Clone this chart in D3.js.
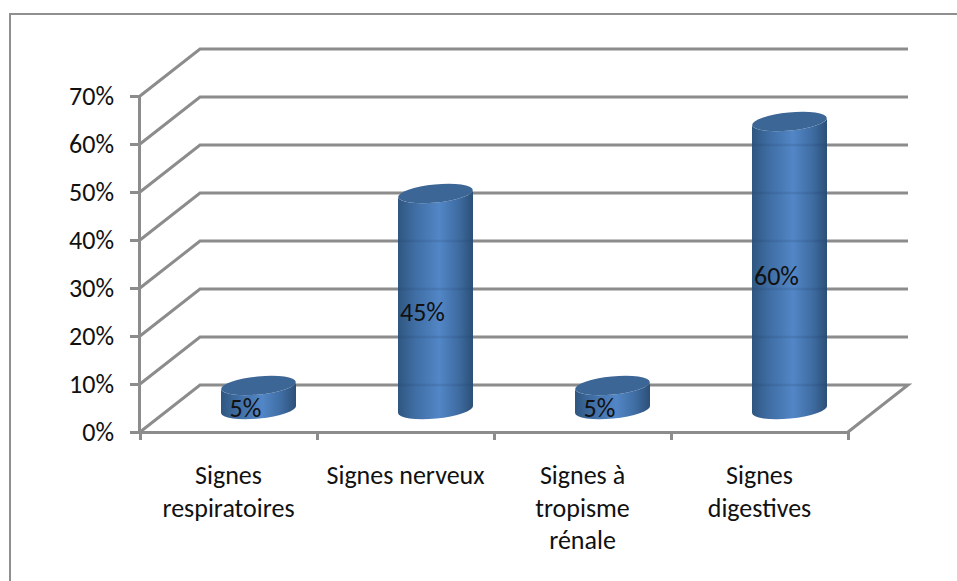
<!DOCTYPE html>
<html>
<head>
<meta charset="utf-8">
<script src="https://cdn.jsdelivr.net/npm/d3@7"></script>
<style>
  html, body { margin: 0; padding: 0; background: #fff; }
  svg { display: block; }
  text { font-family: Carlito, Lato, "Open Sans", sans-serif; fill: #111; }
</style>
</head>
<body>
<svg id="chart" width="957" height="581"></svg>
<script>
"use strict";

const categories = ["Signes respiratoires", "Signes nerveux", "Signes à tropisme rénale", "Signes digestives"];
const categoryLines = [["Signes", "respiratoires"], ["Signes nerveux"], ["Signes à", "tropisme", "rénale"], ["Signes", "digestives"]];
const values = [0.05, 0.45, 0.05, 0.6];
const yTicks = [0, 0.1, 0.2, 0.3, 0.4, 0.5, 0.6, 0.7];

const svg = d3.select("#chart");
const gridColor = "#8c8c8c";
const fontSize = 26;

// front plane of the 3d box
const y = d3.scaleLinear().domain([0, 0.7]).range([432, 96]);
const x = d3.scaleBand().domain(categories).range([140, 848]);
const depthX = 60;
const depthY = -47;

const defs = svg.append("defs");
const grad = defs.append("linearGradient").attr("id", "barSide");
grad.append("stop").attr("offset", "0%").attr("stop-color", "#2f5680");
grad.append("stop").attr("offset", "22%").attr("stop-color", "#3f6da3");
grad.append("stop").attr("offset", "55%").attr("stop-color", "#5286c6");
grad.append("stop").attr("offset", "80%").attr("stop-color", "#3f6da3");
grad.append("stop").attr("offset", "100%").attr("stop-color", "#2c5077");

// chart frame, only top and left show
svg.append("path")
  .attr("d", "M10,581V14H957")
  .attr("fill", "none")
  .attr("stroke", "#8f8f8f")
  .attr("stroke-width", 2);

// walls: one bent line per tick
const walls = svg.append("g")
  .attr("fill", "none")
  .attr("stroke", gridColor)
  .attr("stroke-width", 3);

walls.selectAll("path")
  .data(yTicks)
  .enter()
  .append("path")
  .attr("d", (d) => {
    const p = d3.path();
    p.moveTo(x.range()[0], y(d));
    p.lineTo(x.range()[0] + depthX, y(d) + depthY);
    p.lineTo(x.range()[1] + depthX, y(d) + depthY);
    if (d === 0) p.lineTo(x.range()[1], y(d));
    return p.toString();
  });

// left axis
const yAxis = svg.append("g")
  .attr("transform", `translate(${x.range()[0] - 1},0)`)
  .call(d3.axisLeft(y).tickValues(yTicks).tickFormat(d3.format(".0%")).tickSize(9).tickPadding(16));
yAxis.selectAll("path, line").attr("stroke", gridColor).attr("stroke-width", 3);
yAxis.selectAll("text").attr("font-size", fontSize).style("font-family", "Carlito, Lato, sans-serif");

// bottom axis, ticks sit between the bands
const edgeScale = d3.scaleLinear().domain([0, categories.length]).range(x.range());
const xAxis = svg.append("g")
  .attr("transform", `translate(0,${y(0)})`)
  .call(d3.axisBottom(edgeScale).tickValues(d3.range(categories.length + 1)).tickFormat("").tickSize(8));
xAxis.selectAll("path, line").attr("stroke", gridColor).attr("stroke-width", 3);

// category labels
const labelGroups = svg.append("g")
  .selectAll("text")
  .data(categories)
  .enter()
  .append("text")
  .attr("text-anchor", "middle")
  .attr("font-size", fontSize);

labelGroups.selectAll("tspan")
  .data((d, i) => categoryLines[i].map((t) => ({ t, c: d })))
  .enter()
  .append("tspan")
  .attr("x", (d) => x(d.c) + x.bandwidth() / 2)
  .attr("y", (d, i) => 484 + i * 32.5)
  .text((d) => d.t);

// cylinders
const rx = 37.5;
const ry = 9;
const tilt = -5.5;
const slopeY = 3.6;
const bars = svg.append("g");

categories.forEach((c, i) => {
  const cx = x(c) + x.bandwidth() / 2 + depthX / 2;
  const base = y(0) + depthY / 2 + 1;
  const top = y(values[i]) + depthY / 2 + 1;

  bars.append("path")
    .attr("d", `M${cx - rx},${top + slopeY}L${cx - rx},${base + slopeY}` +
      `A${rx},${ry} ${tilt} 0 0 ${cx + rx},${base - slopeY}L${cx + rx},${top - slopeY}` +
      `A${rx},${ry} ${tilt} 0 1 ${cx - rx},${top + slopeY}Z`)
    .attr("fill", "url(#barSide)");

  // gridlines showing faintly through the body
  yTicks
    .filter((t) => y(t) + depthY < base && y(t) + depthY > top)
    .forEach((t) => {
      bars.append("line")
        .attr("x1", cx - rx)
        .attr("x2", cx + rx)
        .attr("y1", y(t) + depthY)
        .attr("y2", y(t) + depthY)
        .attr("stroke", "#1f3f66")
        .attr("stroke-opacity", 0.15)
        .attr("stroke-width", 2.5);
    });

  bars.append("ellipse")
    .attr("cx", cx)
    .attr("cy", top)
    .attr("rx", rx)
    .attr("ry", ry)
    .attr("transform", `rotate(${tilt} ${cx} ${top})`)
    .attr("fill", "#3c6696");

  bars.append("text")
    .attr("x", x(c) + x.bandwidth() / 2 + 17)
    .attr("y", (y(0) + y(values[i])) / 2 - 12)
    .attr("dy", "0.35em")
    .attr("text-anchor", "middle")
    .attr("font-size", fontSize)
    .text(d3.format(".0%")(values[i]));
});
</script>
</body>
</html>
